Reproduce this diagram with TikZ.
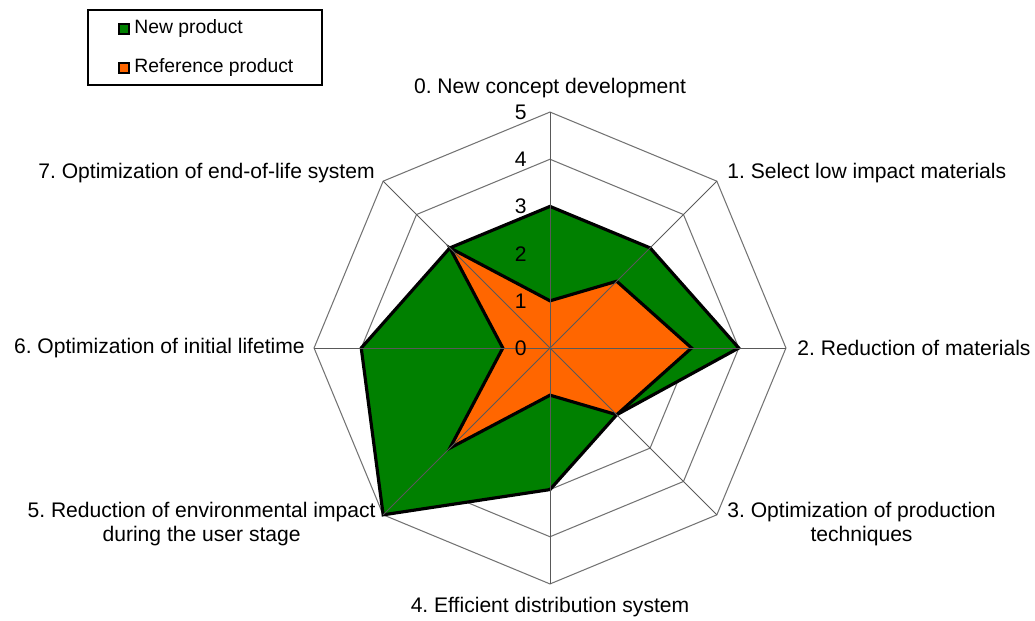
\documentclass[tikz,border=0pt]{standalone}
\usepackage{fontspec}
\setmainfont{Liberation Sans}
\usetikzlibrary{calc}
\frenchspacing
\definecolor{newgreen}{HTML}{008000}
\definecolor{reforange}{HTML}{FF6600}
\tikzstyle{gridline}=[draw=black!55, line width=0.6pt]
\tikzstyle{axisline}=[draw=black!65, line width=0.5pt]
\tikzstyle{series}=[draw=black, line width=1.8pt, line join=miter]
\tikzstyle{catlabel}=[inner sep=0pt, align=center, font=\fontsize{12}{13.6}\selectfont]
\tikzstyle{ticklabel}=[inner sep=0pt, anchor=east, font=\fontsize{12}{14}\selectfont]
\tikzstyle{keybox}=[draw, line width=1.2pt, inner sep=0pt, minimum size=0.19cm]
\tikzstyle{keytext}=[inner sep=0pt, anchor=west, font=\fontsize{11}{13}\selectfont]

\begin{document}
\begin{tikzpicture}[x=0.02cm, y=-0.02cm]
        \useasboundingbox (0,0) rectangle (1035,621);
        \coordinate (c) at (550,348);
        \foreach \k in {0,...,7}
            \coordinate (a\k) at ($(c)+({90-45*\k}:4.72cm)$);
        % grid
        \foreach \v in {1,...,5}
            \draw[gridline] ($(c)!\v*0.2!(a0)$) -- ($(c)!\v*0.2!(a1)$) -- ($(c)!\v*0.2!(a2)$)
                -- ($(c)!\v*0.2!(a3)$) -- ($(c)!\v*0.2!(a4)$) -- ($(c)!\v*0.2!(a5)$)
                -- ($(c)!\v*0.2!(a6)$) -- ($(c)!\v*0.2!(a7)$) -- cycle;
        % series
        \draw[series, fill=newgreen] ($(c)!0.6!(a0)$) -- ($(c)!0.6!(a1)$) -- ($(c)!0.8!(a2)$)
            -- ($(c)!0.4!(a3)$) -- ($(c)!0.6!(a4)$) -- ($(c)!1!(a5)$)
            -- ($(c)!0.8!(a6)$) -- ($(c)!0.6!(a7)$) -- cycle;
        \draw[series, fill=reforange] ($(c)!0.2!(a0)$) -- ($(c)!0.4!(a1)$) -- ($(c)!0.6!(a2)$)
            -- ($(c)!0.4!(a3)$) -- ($(c)!0.2!(a4)$) -- ($(c)!0.6!(a5)$)
            -- ($(c)!0.2!(a6)$) -- ($(c)!0.6!(a7)$) -- cycle;
        \foreach \k in {0,...,7}
            \draw[axisline] (c) -- (a\k);
        % scale
        \node[ticklabel] (t0) at (527,348) {0};
        \node[ticklabel] (t1) at (527,301) {1};
        \node[ticklabel] (t2) at (527,254) {2};
        \node[ticklabel] (t3) at (527,206) {3};
        \node[ticklabel] (t4) at (527,159) {4};
        \node[ticklabel] (t5) at (527,112) {5};
        % categories
        \node[catlabel] (l0) at (550,88) {0. New concept development};
        \node[catlabel, anchor=west] (l1) at (727,173) {1. Select low impact materials};
        \node[catlabel, anchor=west] (l2) at (797,348) {2. Reduction of materials};
        \node[catlabel, anchor=west] (l3) at (727,524) {3. Optimization of production\\techniques};
        \node[catlabel] (l4) at (550,607) {4. Efficient distribution system};
        \node[catlabel, anchor=east] (l5) at (376,524) {5. Reduction of environmental impact\\during the user stage};
        \node[catlabel, anchor=east] (l6) at (305,348) {6. Optimization of initial lifetime};
        \node[catlabel, anchor=east] (l7) at (375,173) {7. Optimization of end-of-life system};
        % legend
        \draw[line width=0.8pt] (88,10) rectangle (322,85);
        \node[keybox, fill=newgreen] (knew) at (124,29) {};
        \node[keytext] (tnew) at (134,29) {New product};
        \node[keybox, fill=reforange] (kref) at (124,68) {};
        \node[keytext] (tref) at (134,68) {Reference product};
    \end{tikzpicture}
\end{document}
